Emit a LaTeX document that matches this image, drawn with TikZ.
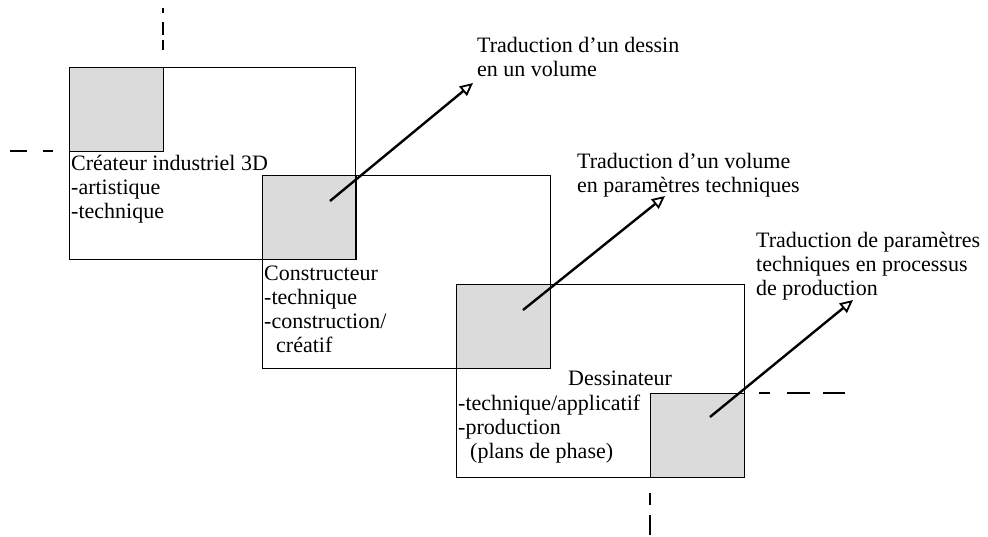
\documentclass[tikz,border=0pt]{standalone}
\usepackage{fontspec}
\setmainfont{Liberation Serif}
\usetikzlibrary{arrows.meta}
\begin{document}
\begin{tikzpicture}[x=1pt,y=-1pt,
  frame/.style={draw,line width=1.3pt,inner sep=0pt,anchor=north west},
  shade/.style={draw,line width=1.3pt,fill=gray!28,inner sep=0pt,anchor=north west,minimum width=94pt,minimum height=84pt},
  txt/.style={font=\fontsize{22}{24}\selectfont,align=left,inner sep=0pt,anchor=base west},
  guide/.style={line width=2.4pt},
  arr/.style={line width=2.4pt,-{Triangle[open,length=13pt,width=12pt,fill=white,line width=1.8pt]}}
]
\useasboundingbox (0,0) rectangle (988,536);
% gray squares
\node[shade] (g1) at (69,67) {};
\node[shade] (g2) at (262,175) {};
\node[shade] (g3) at (456,284) {};
\node[shade] (g4) at (650,393) {};
% frames
\node[frame,minimum width=286pt,minimum height=192pt] (b1) at (69,67) {};
\node[frame,minimum width=288pt,minimum height=193pt] (b2) at (262,175) {};
\node[frame,minimum width=288pt,minimum height=193pt] (b3) at (456,284) {};
% dashed guides
\draw[guide,dash pattern=on 10pt off 5pt on 13pt off 9pt on 5pt] (163,50) -- (163,8);
\draw[guide,dash pattern=on 17pt off 16pt on 10pt] (10,151) -- (53,151);
\draw[guide,dash pattern=on 11pt off 17pt on 23pt off 13pt on 22pt] (759,393) -- (845,393);
\draw[guide,dash pattern=on 12pt off 10pt on 20pt] (650,493) -- (650,535);
% texts in frames (anchor = baseline of last line)
\node[txt] (t1) at (71,218) {Créateur industriel 3D\\-artistique\\-technique};
\node[txt] (t2) at (264,352) {Constructeur\\-technique\\-construction/\\\hspace*{12pt}créatif};
\node[txt] (t3a) at (568,385) {Dessinateur};
\node[txt] (t3) at (458,458) {-technique/applicatif\\-production\\\hspace*{12pt}(plans de phase)};
% labels
\node[txt] (l1) at (477,76) {Traduction d’un dessin\\en un volume};
\node[txt] (l2) at (577,192) {Traduction d’un volume\\en paramètres techniques};
\node[txt] (l3) at (756,295) {Traduction de paramètres\\techniques en processus\\de production};
% arrows
\coordinate (s1) at (330,201); \coordinate (e1) at (473,83);
\coordinate (s2) at (523,310); \coordinate (e2) at (665,196);
\coordinate (s3) at (710,417); \coordinate (e3) at (853,300);
\draw[arr] (s1) -- (e1);
\draw[arr] (s2) -- (e2);
\draw[arr] (s3) -- (e3);
\end{tikzpicture}
\end{document}
